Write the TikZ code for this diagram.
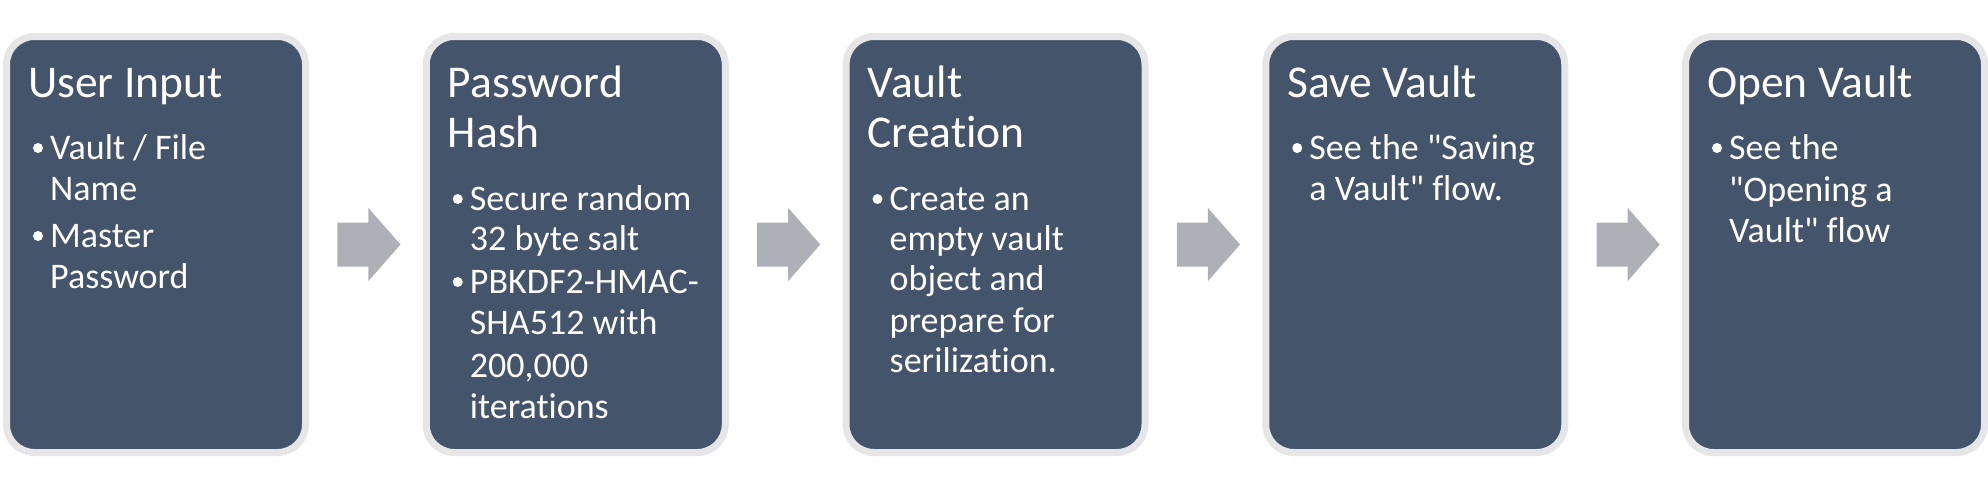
\documentclass[tikz,border=0pt]{standalone}
\usepackage{fontspec}
\setmainfont{Carlito}[Ligatures={TeXOff,NoCommon}]
\usetikzlibrary{calc}
\definecolor{boxfill}{HTML}{44546A}
\definecolor{boxline}{HTML}{E6E6E8}
\definecolor{arrowc}{HTML}{ADB0B6}
\newcommand\dq{\symbol{34}}
\tikzset{
  stagebox/.style={draw=boxline, fill=boxfill, line width=7pt, rounded corners=28pt,
    minimum width=299pt, minimum height=416pt, inner sep=0pt},
  ttl/.style={anchor=base west, inner sep=0pt, text=white, font=\fontsize{45.5}{50}\selectfont},
  itm/.style={anchor=base west, inner sep=0pt, text=white, font=\fontsize{36}{41}\selectfont},
  bdot/.style={fill=white, circle, minimum size=10pt, inner sep=0pt},
  flowarrow/.style={fill=arrowc, draw=none},
}
\newcommand\flowarr[2]{%
  \coordinate (#1) at ($(#2)+(1.6,0)$);
  \fill[flowarrow] ($(#1)+(-30,-22)$) -- ($(#1)+(1,-22)$) -- ($(#1)+(1,-36.5)$)
    -- ($(#1)+(33,0)$) -- ($(#1)+(1,36.5)$) -- ($(#1)+(1,22)$) -- ($(#1)+(-30,22)$) -- cycle;
}
\begin{document}
\begin{tikzpicture}[x=1pt,y=-1pt]
\useasboundingbox (0,0) rectangle (1988,488);
\fill[white] (0,0) rectangle (1988,488);

\node[stagebox] (b1) at (156,244.5) {};
\node[stagebox] (b2) at (575.75,244.5) {};
\node[stagebox] (b3) at (995.5,244.5) {};
\node[stagebox] (b4) at (1415.25,244.5) {};
\node[stagebox] (b5) at (1835,244.5) {};

\coordinate (m1) at ($(b1.east)!0.5!(b2.west)$);
\coordinate (m2) at ($(b2.east)!0.5!(b3.west)$);
\coordinate (m3) at ($(b3.east)!0.5!(b4.west)$);
\coordinate (m4) at ($(b4.east)!0.5!(b5.west)$);
\flowarr{a1}{m1}
\flowarr{a2}{m2}
\flowarr{a3}{m3}
\flowarr{a4}{m4}

% Box 1
\node[ttl] (t1) at (28,97.5) {User Input};
\node[bdot] (d1a) at (38,148) {};
\node[itm] (l1a) at (50,159) {Vault / File};
\node[itm] (l1b) at (50,200) {Name};
\node[bdot] (d1b) at (38,236) {};
\node[itm] (l1c) at (50,247) {Master};
\node[itm] (l1d) at (50,288) {Password};

% Box 2
\node[ttl] (t2a) at (447.75,97.5) {Password};
\node[ttl] (t2b) at (447.75,147.5) {Hash};
\node[bdot] (d2a) at (457.75,199) {};
\node[itm] (l2a) at (469.75,210) {Secure random};
\node[itm] (l2b) at (469.75,250) {32 byte salt};
\node[bdot] (d2b) at (457.75,282) {};
\node[itm] (l2c) at (469.75,293) {PBKDF2-HMAC-};
\node[itm] (l2d) at (469.75,334) {SHA512 with};
\node[itm] (l2e) at (469.75,377) {200,000};
\node[itm] (l2f) at (469.75,418) {iterations};

% Box 3
\node[ttl] (t3a) at (867.5,97.5) {Vault};
\node[ttl] (t3b) at (867.5,147.5) {Creation};
\node[bdot] (d3a) at (877.5,199) {};
\node[itm] (l3a) at (889.5,210) {Create an};
\node[itm] (l3b) at (889.5,250) {empty vault};
\node[itm] (l3c) at (889.5,290) {object and};
\node[itm] (l3d) at (889.5,332) {prepare for};
\node[itm] (l3e) at (889.5,372) {serilization.};

% Box 4
\node[ttl] (t4) at (1287.25,97.5) {Save Vault};
\node[bdot] (d4a) at (1297.25,148) {};
\node[itm] (l4a) at (1309.25,159) {See the \dq Saving};
\node[itm] (l4b) at (1309.25,200) {a Vault\dq{} flow.};

% Box 5
\node[ttl] (t5) at (1707,97.5) {Open Vault};
\node[bdot] (d5a) at (1717,148) {};
\node[itm] (l5a) at (1729,159) {See the};
\node[itm] (l5b) at (1729,201) {\dq Opening a};
\node[itm] (l5c) at (1729,242) {Vault\dq{} flow};
\end{tikzpicture}
\end{document}
